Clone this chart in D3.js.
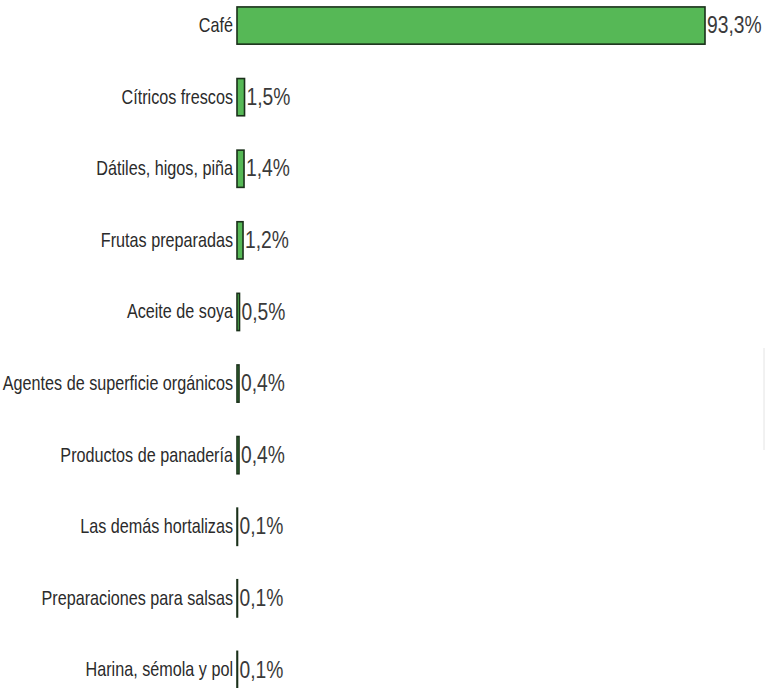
<!DOCTYPE html>
<html>
<head>
<meta charset="utf-8">
<script src="https://cdn.jsdelivr.net/npm/d3@7"></script>
<style>
  html, body { margin: 0; padding: 0; background: #ffffff; }
  svg { display: block; }
</style>
</head>
<body>
<svg id="chart" width="765" height="688"></svg>
<script>
const categories = [
  "Café",
  "Cítricos frescos",
  "Dátiles, higos, piña",
  "Frutas preparadas",
  "Aceite de soya",
  "Agentes de superficie orgánicos",
  "Productos de panadería",
  "Las demás hortalizas",
  "Preparaciones para salsas",
  "Harina, sémola y pol"
];
const values = [93.3, 1.5, 1.4, 1.2, 0.5, 0.4, 0.4, 0.1, 0.1, 0.1];
const valueLabels = ["93,3%", "1,5%", "1,4%", "1,2%", "0,5%", "0,4%", "0,4%", "0,1%", "0,1%", "0,1%"];

const data = categories.map((c, i) => ({ cat: c, v: values[i], lab: valueLabels[i] }));

const svg = d3.select("#chart");
const sxLab = 0.83; // horizontal text compression (labels)
const sxVal = 0.82; // horizontal text compression (values)

const x = d3.scaleLinear().domain([0, 93.3]).range([237, 705]);
const y = d3.scaleBand().domain(categories).range([5.5, 690]).paddingInner(0.48).paddingOuter(0.02);

// bars
svg.append("g").selectAll("rect").data(data).join("rect")
  .attr("x", x(0))
  .attr("y", d => y(d.cat))
  .attr("width", d => x(d.v) - x(0))
  .attr("height", y.bandwidth())
  .attr("fill", "#56b856")
  .attr("stroke", "#1a301a")
  .attr("stroke-width", 1.6);

// category labels (right aligned, left of bars)
svg.append("g").selectAll("text").data(data).join("text")
  .attr("transform", d => `translate(${x(0) - 4},${y(d.cat) + y.bandwidth() / 2}) scale(${sxLab},1)`)
  .attr("text-anchor", "end")
  .attr("dominant-baseline", "central")
  .attr("font-family", "'Liberation Sans', Arial, sans-serif")
  .attr("font-size", 19.5)
  .attr("fill", "#2b2b2b")
  .text(d => d.cat);

// value labels
svg.append("g").selectAll("text").data(data).join("text")
  .attr("transform", d => `translate(${x(d.v) + 2},${y(d.cat) + y.bandwidth() / 2}) scale(${sxVal},1)`)
  .attr("text-anchor", "start")
  .attr("dominant-baseline", "central")
  .attr("font-family", "'Liberation Sans', Arial, sans-serif")
  .attr("font-size", 23.5)
  .attr("fill", "#3a3a3a")
  .text(d => d.lab);

// faint edge artifact at right
svg.append("line")
  .attr("x1", 764).attr("x2", 764).attr("y1", 348).attr("y2", 450)
  .attr("stroke", "#e4e4e4").attr("stroke-width", 1);
</script>
</body>
</html>
